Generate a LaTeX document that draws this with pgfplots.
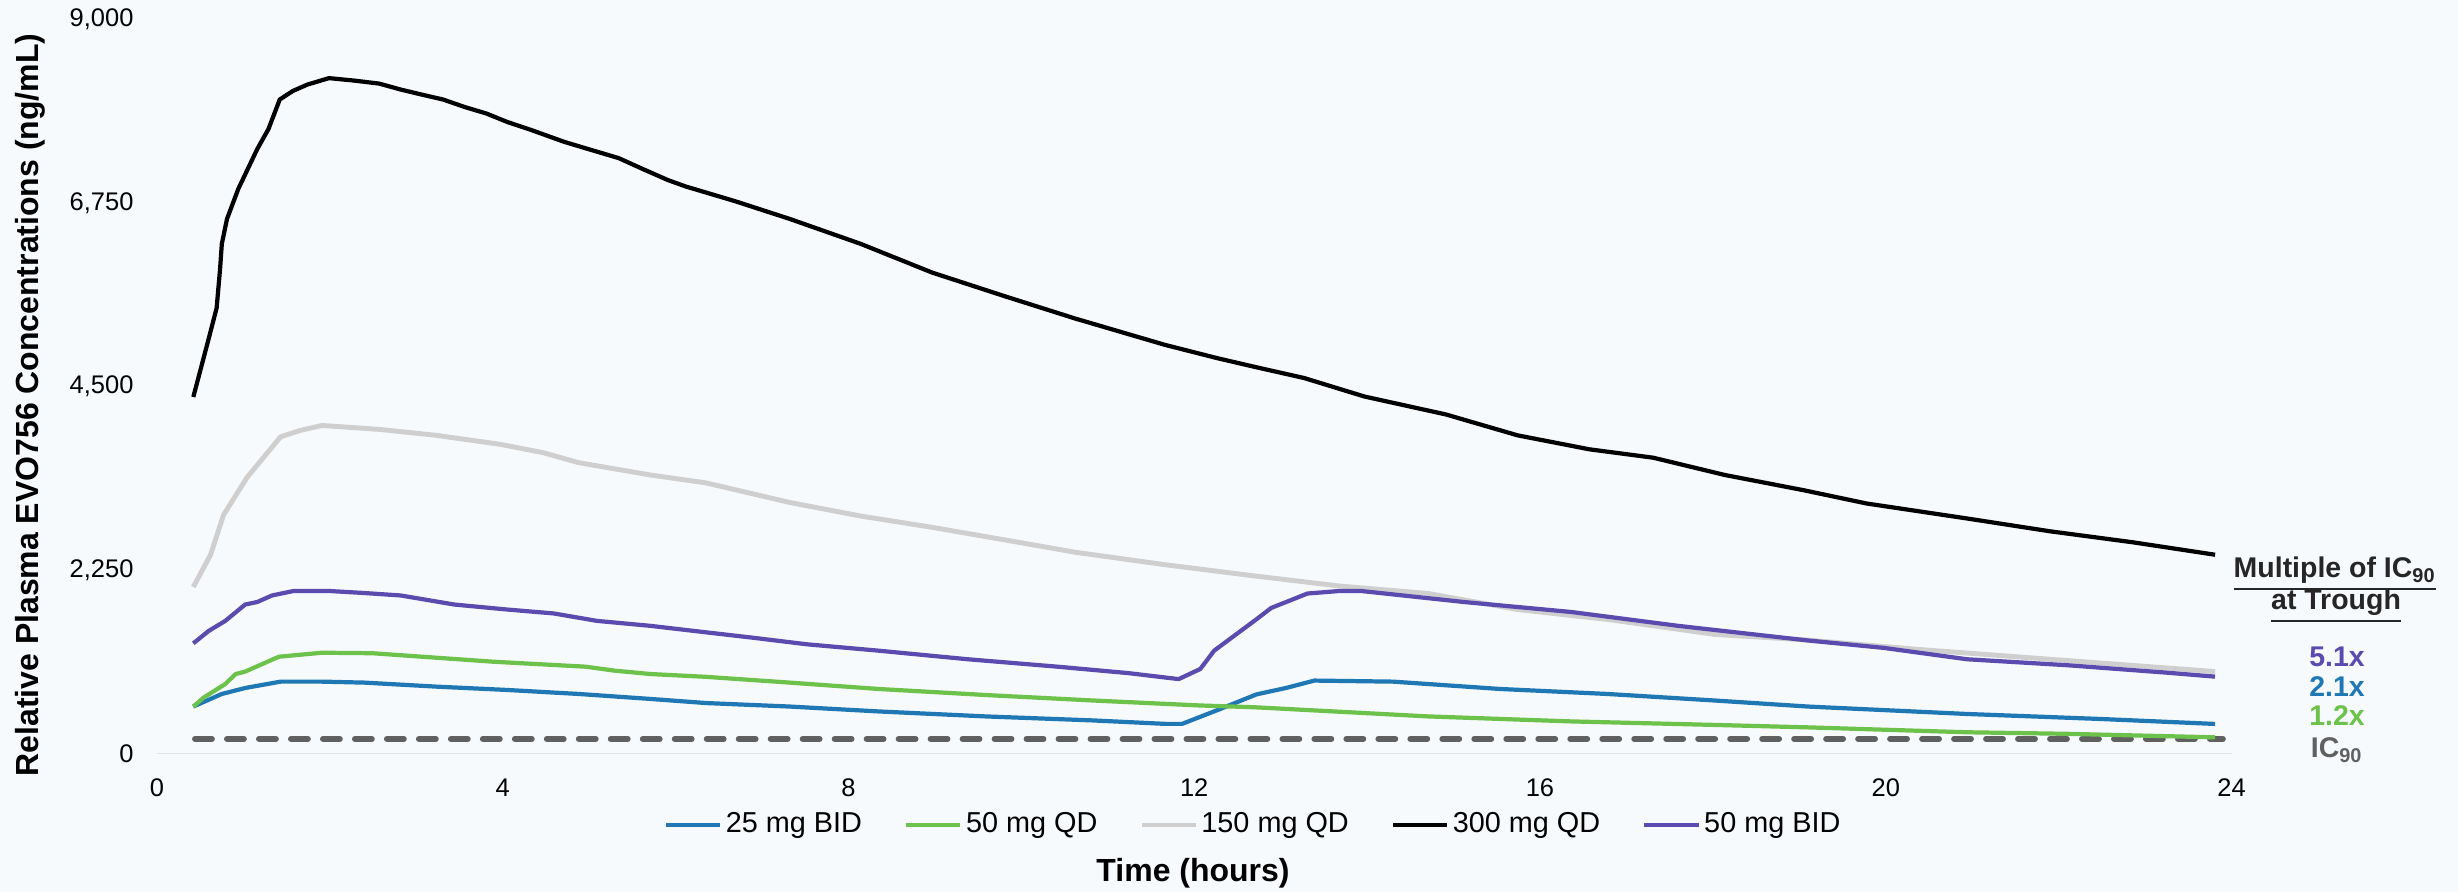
\documentclass[border=0pt]{standalone}
\usepackage{fontspec}
\setmainfont{Liberation Sans}
\usepackage{pgfplots}
\pgfplotsset{compat=1.18}

\definecolor{bgc}{HTML}{F7FAFD}
\definecolor{c25bid}{HTML}{1F78B4}
\definecolor{c50qd}{HTML}{6CC24A}
\definecolor{c150qd}{HTML}{D0CFCF}
\definecolor{c50bid}{HTML}{5B4BAE}
\definecolor{icgray}{HTML}{606060}
\definecolor{axgray}{HTML}{E3E3E3}
\definecolor{titlec}{HTML}{262626}

\begin{document}
\begin{tikzpicture}[x=0.1mm,y=0.1mm]
% one unit = one pixel of the reference; (0,0) = lower left of the plot area
\useasboundingbox (-157,-138) rectangle (2301,754);
\fill[bgc] (-157,-138) rectangle (2301,754);

\begin{axis}[
    at={(0,0)}, anchor=south west,
    scale only axis,
    width=207.45mm, height=73.5mm,
    xmin=0, xmax=24, ymin=0, ymax=9000,
    xtick={0,4,...,24},
    ytick={0,2250,4500,6750,9000},
    scaled y ticks=false,
    /pgf/number format/1000 sep={,},
    /pgf/number format/assume math mode=true,
    axis line style={draw=none},
    major tick length=0pt,
    tick label style={font=\fontsize{7.25}{8}\selectfont},
    xticklabel style={anchor=center, inner sep=0pt, yshift=-9.7pt},
    yticklabel style={anchor=east, inner sep=0pt, xshift=-6.5pt},
    xlabel={Time (hours)},
    ylabel={Relative Plasma EVO756 Concentrations (ng/mL)},
    label style={font=\fontsize{9.1}{10}\selectfont\bfseries},
    xlabel style={at={(axis description cs:0.4994,-0.1619)}, anchor=center},
    ylabel style={at={(axis description cs:-0.0612,0.4748)}, anchor=center, rotate=0},
    legend columns=5,
    legend style={
        at={(axis description cs:0.5288,-0.0966)}, anchor=center,
        draw=none, fill=none,
        font=\fontsize{8.2}{9}\selectfont,
        nodes={inner sep=1pt},
        /tikz/every even column/.append style={column sep=11pt},
    },
    legend image code/.code={\draw[#1, line width=1.2pt] (0pt,0pt) -- (15.4pt,0pt);},
    every axis plot/.append style={line width=1.2pt, line join=round},
]

\draw[axgray, line width=0.6pt] (axis cs:0,0) -- (axis cs:24,0);

% IC90
\addplot[icgray, line width=1.7pt, dash pattern=on 4.8pt off 4.3pt, line cap=round, forget plot]
    coordinates {(0.44,185) (23.9,185)};

% 25 mg BID
\addplot[c25bid] coordinates {
(0.42,581) (0.75,735) (1.02,808) (1.43,886) (1.91,886) (2.40,874)
(3.23,825) (4.05,784) (4.88,735) (5.71,674) (6.35,624) (7.32,581)
(8.35,521) (9.59,460) (10.83,411) (11.66,369) (11.86,369) (12.27,538)
(12.72,730) (13.06,808) (13.39,899) (14.30,886) (15.54,796) (16.78,735)
(18.02,655) (19.10,581) (20.94,490) (22.48,429) (23.81,368)
};
\addlegendentry{25 mg BID}

% 50 mg QD
\addplot[c50qd] coordinates {
(0.42,581) (0.54,691) (0.79,857) (0.91,979) (1.02,1009) (1.41,1191)
(1.91,1240) (2.49,1234) (3.23,1179) (3.89,1130) (4.96,1069) (5.29,1021)
(5.71,979) (6.35,945) (7.32,874) (8.35,796) (9.59,722) (10.83,655)
(12.07,594) (12.70,572) (14.71,460) (16.36,399) (18.02,356) (19.10,326)
(20.94,266) (22.10,247) (23.81,204)
};
\addlegendentry{50 mg QD}

% 150 mg QD
\addplot[c150qd, line width=1.4pt] coordinates {
(0.42,2045) (0.62,2440) (0.77,2927) (1.04,3384) (1.43,3884) (1.66,3963)
(1.91,4023) (2.57,3975) (3.23,3902) (3.97,3792) (4.47,3689) (4.88,3567)
(5.71,3416) (6.35,3320) (7.32,3080) (8.14,2914) (8.97,2775) (9.80,2623)
(10.62,2471) (11.66,2318) (12.70,2180) (13.68,2057) (14.71,1965) (15.74,1769)
(16.78,1648) (18.02,1465) (19.10,1395) (20.36,1282) (23.81,1009)
};
\addlegendentry{150 mg QD}

% 300 mg QD
\addplot[black] coordinates {
(0.42,4371) (0.60,5093) (0.69,5461) (0.73,5942) (0.75,6247) (0.81,6552)
(0.94,6918) (1.16,7408) (1.29,7653) (1.42,8014) (1.57,8118) (1.74,8197)
(1.99,8276) (2.28,8246) (2.57,8209) (2.82,8136) (3.06,8075) (3.31,8014)
(3.56,7922) (3.81,7843) (4.05,7740) (4.34,7637) (4.71,7496) (5.00,7404)
(5.34,7297) (5.62,7163) (5.91,7028) (6.12,6948) (6.40,6860) (6.70,6765)
(7.32,6552) (8.14,6247) (8.97,5894) (9.80,5608) (10.62,5333) (11.66,5010)
(12.27,4846) (12.70,4740) (13.27,4604) (13.97,4377) (14.91,4158) (15.74,3902)
(16.57,3731) (17.31,3628) (18.14,3416) (19.05,3230) (19.78,3067) (20.94,2884)
(21.90,2727) (22.86,2592) (23.81,2440)
};
\addlegendentry{300 mg QD}

% 50 mg BID
\addplot[c50bid] coordinates {
(0.42,1355) (0.60,1508) (0.79,1630) (1.02,1830) (1.16,1861) (1.33,1941)
(1.58,1996) (1.99,1996) (2.40,1971) (2.82,1941) (3.44,1830) (4.05,1769)
(4.59,1721) (5.09,1630) (5.71,1569) (6.35,1490) (6.90,1423) (7.52,1343)
(8.35,1265) (9.38,1160) (10.42,1069) (11.24,990) (11.82,917) (12.07,1041)
(12.23,1265) (12.72,1650) (12.89,1788) (13.31,1965) (13.68,1996) (13.93,1996)
(15.12,1861) (16.36,1739) (17.60,1569) (19.10,1390) (19.97,1300) (20.94,1160)
(22.10,1087) (23.25,996) (23.81,947)
};
\addlegendentry{50 mg BID}

\end{axis}

% trough multiples
\begin{scope}[font=\fontsize{8.1}{9}\selectfont\bfseries]
\node[anchor=base, titlec] at (2178,176) {\underline{Multiple of IC\textsubscript{90}}};
\node[anchor=base, titlec] at (2179,144) {\underline{at Trough}};
\node[anchor=base, c50bid] at (2180,87) {5.1x};
\node[anchor=base, c25bid] at (2180,57) {2.1x};
\node[anchor=base, c50qd] at (2180,28) {1.2x};
\node[anchor=base, icgray] at (2180,-4) {IC\textsubscript{90}};
\end{scope}
\end{tikzpicture}
\end{document}
